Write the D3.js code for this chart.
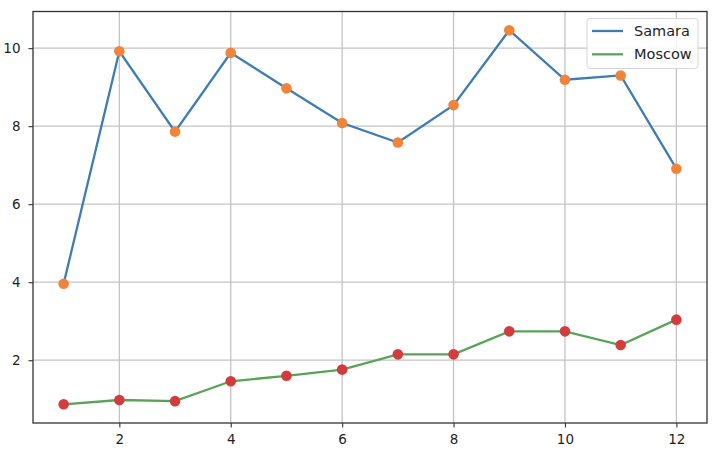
<!DOCTYPE html>
<html>
<head>
<meta charset="utf-8">
<script src="https://cdn.jsdelivr.net/npm/d3@7"></script>
<style>
  body { margin: 0; background: #fff; }
  svg { display: block; font-family: "DejaVu Sans", sans-serif; }
</style>
</head>
<body>
<svg id="chart" width="718" height="455"></svg>
<script>
// data
var months = [1, 2, 3, 4, 5, 6, 7, 8, 9, 10, 11, 12];
var samara = [3.96, 9.92, 7.86, 9.88, 8.97, 8.08, 7.58, 8.54, 10.46, 9.19, 9.30, 6.91];
var moscow = [0.87, 0.98, 0.95, 1.46, 1.60, 1.76, 2.15, 2.15, 2.74, 2.74, 2.39, 3.04];
var xTicks = [2, 4, 6, 8, 10, 12];
var yTicks = [2, 4, 6, 8, 10];
var seriesNames = ["Samara", "Moscow"];

var svg = d3.select("#chart");
var plotL = 33, plotR = 707, plotT = 11.5, plotB = 423;

// matplotlib style 5% margins
var xr = d3.extent(months), xpad = (xr[1] - xr[0]) * 0.05;
var all = samara.concat(moscow);
var yr = d3.extent(all), ypad = (yr[1] - yr[0]) * 0.05;

var x = d3.scaleLinear().domain([xr[0] - xpad, xr[1] + xpad]).range([plotL, plotR]);
var y = d3.scaleLinear().domain([yr[0] - ypad, yr[1] + ypad]).range([plotB, plotT]);

// grid
var g = svg.append("g");
g.selectAll("line.gx").data(xTicks).enter().append("line")
    .attr("x1", function(d) { return x(d); }).attr("x2", function(d) { return x(d); })
    .attr("y1", plotT).attr("y2", plotB)
    .style("stroke", "#c4c4c4").style("stroke-width", 1.3);
g.selectAll("line.gy").data(yTicks).enter().append("line")
    .attr("y1", function(d) { return y(d); }).attr("y2", function(d) { return y(d); })
    .attr("x1", plotL).attr("x2", plotR)
    .style("stroke", "#c4c4c4").style("stroke-width", 1.3);

// axes
var xAxis = svg.append("g")
    .attr("transform", "translate(0," + plotB + ")")
    .call(d3.axisBottom(x).tickValues(xTicks).tickSize(4.5).tickPadding(6.5).tickFormat(d3.format("d")));
var yAxis = svg.append("g")
    .attr("transform", "translate(" + plotL + ",0)")
    .call(d3.axisLeft(y).tickValues(yTicks).tickSize(4.5).tickPadding(8).tickFormat(d3.format("d")));
[xAxis, yAxis].forEach(function(a) {
    a.select(".domain").remove();
    a.attr("font-size", 13.5).attr("font-family", "DejaVu Sans");
    a.selectAll(".tick line").style("stroke", "#333").style("stroke-width", 1.1);
    a.selectAll(".tick text").style("fill", "#1e1e1e");
});

// frame
svg.append("rect")
    .attr("x", plotL).attr("y", plotT)
    .attr("width", plotR - plotL).attr("height", plotB - plotT)
    .style("fill", "none").style("stroke", "#333").style("stroke-width", 1.3);

var line = d3.line()
    .x(function(d, i) { return x(months[i]); })
    .y(function(d) { return y(d); });

function drawSeries(vals, lineColor, dotColor) {
    svg.append("path").datum(vals)
        .attr("d", line)
        .style("fill", "none").style("stroke", lineColor).style("stroke-width", 2.3);
    svg.append("g").selectAll("circle").data(vals).enter().append("circle")
        .attr("cx", function(d, i) { return x(months[i]); })
        .attr("cy", function(d) { return y(d); })
        .attr("r", 5.3)
        .style("fill", dotColor);
}
drawSeries(samara, "#3f7cb0", "#f2843a");
drawSeries(moscow, "#5aa25a", "#d23c3c");

// legend
var lg = svg.append("g");
lg.append("rect")
    .attr("x", 587).attr("y", 18.5).attr("width", 111).attr("height", 50)
    .attr("rx", 3)
    .style("fill", "#fff").style("fill-opacity", 0.85)
    .style("stroke", "#d6d6d6").style("stroke-width", 1);
var legendColors = ["#3f7cb0", "#5aa25a"];
seriesNames.forEach(function(name, i) {
    var ly = 31 + i * 23.3;
    lg.append("line")
        .attr("x1", 592).attr("x2", 623).attr("y1", ly).attr("y2", ly)
        .style("stroke", legendColors[i]).style("stroke-width", 2.3);
    lg.append("text")
        .attr("x", 634).attr("y", ly + 5)
        .style("font-size", "14.5px").style("fill", "#1e1e1e")
        .text(name);
});
</script>
</body>
</html>
